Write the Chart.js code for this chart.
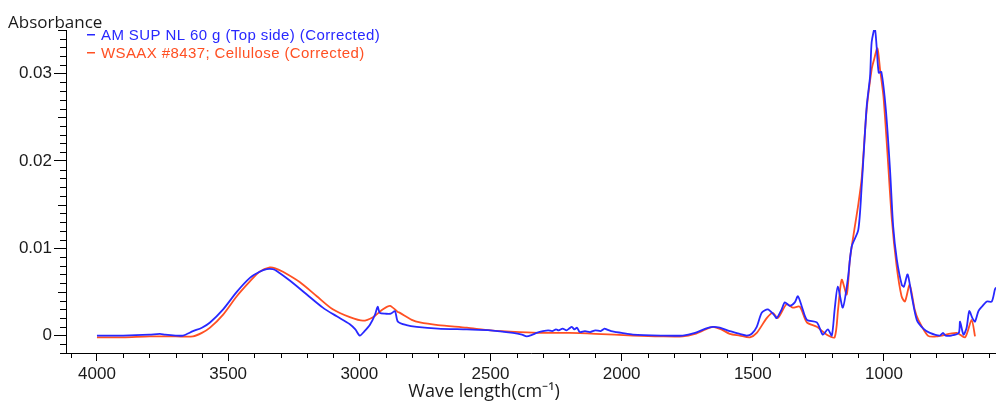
<!DOCTYPE html>
<html>
<head>
<meta charset="utf-8">
<script src="https://cdn.jsdelivr.net/npm/chart.js@4.4.1/dist/chart.umd.min.js"></script>
<style>
  html, body { margin: 0; padding: 0; background: #fff; }
  #wrap { width: 996px; height: 403px; position: relative; }
</style>
</head>
<body>
<div id="wrap"><canvas id="spectrum" width="996" height="403"></canvas></div>
<script>
// sample spectrum (AM SUP NL 60 g, top side)
const blueWn = [4000, 3900, 3800, 3760, 3740, 3700, 3672, 3634, 3600, 3569, 3519, 3467, 3417, 3380, 3353, 3330, 3315, 3265, 3200, 3139, 3086, 3036, 3015, 2998, 2980, 2960, 2940, 2930, 2922, 2900, 2880, 2864, 2853, 2820, 2781, 2700, 2590, 2500, 2414, 2380, 2362, 2340, 2324, 2300, 2280, 2265, 2250, 2240, 2225, 2210, 2200, 2190, 2180, 2170, 2160, 2140, 2120, 2100, 2080, 2065, 2057, 2040, 2020, 2000, 1957, 1850, 1767, 1720, 1680, 1652, 1626, 1588, 1550, 1523, 1504, 1485, 1466, 1443, 1420, 1409, 1390, 1378, 1359, 1340, 1328, 1313, 1294, 1256, 1233, 1214, 1199, 1188, 1176, 1157, 1138, 1123, 1098, 1085, 1066, 1053, 1047, 1035, 1028, 1020, 1010, 993, 977, 965, 951, 932, 924, 910, 894, 875, 850, 825, 787, 775, 765, 743, 715, 710, 697, 685, 675, 663, 653, 640, 627, 608, 589, 577, 573];
const blueAbs = [0.0000, 0.0000, 0.0001, 0.0002, 0.0001, 0.0000, 0.0000, 0.0005, 0.0009, 0.0015, 0.0030, 0.0050, 0.0066, 0.0073, 0.0076, 0.0076, 0.0074, 0.0063, 0.0047, 0.0032, 0.0022, 0.0013, 0.0007, 0.0000, 0.0005, 0.0012, 0.0024, 0.0033, 0.0026, 0.0025, 0.0025, 0.0028, 0.0016, 0.0012, 0.0010, 0.0008, 0.0007, 0.0006, 0.0003, 0.0001, -0.0001, 0.0001, 0.0003, 0.0005, 0.0006, 0.0005, 0.0007, 0.0006, 0.0008, 0.0006, 0.0008, 0.0010, 0.0007, 0.0009, 0.0004, 0.0005, 0.0004, 0.0006, 0.0005, 0.0008, 0.0007, 0.0005, 0.0004, 0.0003, 0.0001, 0.0000, 0.0000, 0.0003, 0.0008, 0.0010, 0.0009, 0.0005, 0.0002, 0.0000, 0.0002, 0.0010, 0.0026, 0.0030, 0.0024, 0.0020, 0.0030, 0.0038, 0.0034, 0.0038, 0.0045, 0.0033, 0.0018, 0.0015, 0.0001, 0.0007, 0.0000, 0.0030, 0.0056, 0.0032, 0.0064, 0.0102, 0.0121, 0.0171, 0.0262, 0.0297, 0.0336, 0.0352, 0.0331, 0.0301, 0.0302, 0.0259, 0.0190, 0.0125, 0.0087, 0.0058, 0.0056, 0.0070, 0.0045, 0.0018, 0.0008, 0.0003, 0.0000, 0.0003, 0.0000, 0.0000, 0.0003, 0.0016, 0.0001, 0.0009, 0.0028, 0.0020, 0.0016, 0.0028, 0.0033, 0.0039, 0.0039, 0.0053, 0.0055];

// reference spectrum (WSAAX #8437; Cellulose)
const redWn = [4000, 3900, 3800, 3700, 3634, 3600, 3569, 3519, 3467, 3417, 3380, 3341, 3320, 3291, 3226, 3162, 3101, 3036, 2986, 2948, 2910, 2883, 2853, 2845, 2800, 2769, 2700, 2590, 2500, 2388, 2300, 2200, 2100, 1957, 1850, 1767, 1720, 1680, 1652, 1620, 1588, 1550, 1511, 1485, 1447, 1424, 1405, 1371, 1348, 1321, 1294, 1256, 1218, 1188, 1175, 1161, 1142, 1130, 1111, 1098, 1085, 1066, 1047, 1038, 1025, 1015, 1002, 987, 970, 952, 933, 920, 902, 883, 869, 833, 800, 723, 691, 666, 653];
const redAbs = [-0.0002, -0.0002, -0.0001, -0.0001, -0.0001, 0.0003, 0.0009, 0.0024, 0.0045, 0.0062, 0.0073, 0.0078, 0.0077, 0.0073, 0.0061, 0.0045, 0.0030, 0.0021, 0.0017, 0.0021, 0.0030, 0.0034, 0.0027, 0.0026, 0.0018, 0.0015, 0.0012, 0.0009, 0.0006, 0.0004, 0.0003, 0.0003, 0.0002, 0.0000, -0.0001, -0.0001, 0.0002, 0.0007, 0.0010, 0.0007, 0.0002, 0.0000, -0.0002, 0.0003, 0.0020, 0.0026, 0.0020, 0.0036, 0.0032, 0.0033, 0.0015, 0.0010, 0.0001, -0.0002, 0.0030, 0.0064, 0.0047, 0.0087, 0.0125, 0.0150, 0.0180, 0.0259, 0.0305, 0.0316, 0.0329, 0.0305, 0.0274, 0.0210, 0.0133, 0.0080, 0.0045, 0.0039, 0.0058, 0.0030, 0.0018, 0.0000, -0.0001, 0.0003, -0.0002, 0.0018, -0.0001];

const seriesNames = ['AM SUP NL 60 g (Top side) (Corrected)', 'WSAAX #8437; Cellulose (Corrected)'];
const xTicks = [4000, 3500, 3000, 2500, 2000, 1500, 1000];
const yTicks = [0, 0.01, 0.02, 0.03];

const BLUE = 'rgb(40, 40, 255)';
const RED = 'rgb(255, 80, 35)';

function toPoints(xs, ys) {
    return xs.map((x, i) => ({ x: x, y: ys[i] }));
}

// small ticks, axis titles and legend drawn on top of the chart
const decorations = {
    id: 'decorations',
    afterDraw(chart) {
        const ctx = chart.ctx;
        const xs = chart.scales.x;
        const ys = chart.scales.y;
        const area = chart.chartArea;
        ctx.save();
        ctx.strokeStyle = '#000';
        ctx.lineWidth = 1;
        ctx.beginPath();
        for (let i = -2; i <= 35; i++) {
            if (i % 10 === 0) continue;
            const py = Math.round(ys.getPixelForValue(i / 1000)) + 0.5;
            const len = (i % 5 === 0) ? 8 : 6;
            ctx.moveTo(area.left - len, py);
            ctx.lineTo(area.left, py);
        }
        for (let w = 4100; w >= 600; w -= 100) {
            if (w % 500 === 0) continue;
            const px = Math.round(xs.getPixelForValue(w)) + 0.5;
            ctx.moveTo(px, area.bottom);
            ctx.lineTo(px, area.bottom + 5);
        }
        ctx.stroke();

        ctx.fillStyle = '#1a1a1a';
        ctx.textBaseline = 'alphabetic';
        ctx.font = '17px "Open Sans"';
        ctx.textAlign = 'left';
        ctx.fillText('Absorbance', 8, 28);
        ctx.font = '18px "Open Sans"';
        ctx.textAlign = 'center';
        ctx.fillText('Wave length(cm\u207B\u00B9)', 484, 397);

        ctx.font = '15px "Liberation Sans"';
        ctx.letterSpacing = '0.4px';
        ctx.textAlign = 'left';
        const colors = [BLUE, RED];
        const baselines = [40, 58];
        seriesNames.forEach((name, i) => {
            ctx.fillStyle = colors[i];
            ctx.fillRect(87, baselines[i] - 6, 8, 1.5);
            ctx.fillText(name, 101, baselines[i]);
        });
        ctx.restore();
    }
};

new Chart(document.getElementById('spectrum'), {
    type: 'line',
    data: {
        datasets: [
            {
                label: seriesNames[0],
                data: toPoints(blueWn, blueAbs),
                borderColor: BLUE,
                borderWidth: 1.8,
                pointRadius: 0,
                tension: 0.25,
                fill: false
            },
            {
                label: seriesNames[1],
                data: toPoints(redWn, redAbs),
                borderColor: RED,
                borderWidth: 1.8,
                pointRadius: 0,
                tension: 0.25,
                fill: false
            }
        ]
    },
    plugins: [decorations],
    options: {
        responsive: false,
        animation: false,
        layout: { padding: { top: 30, left: 0, right: 0, bottom: 0 } },
        plugins: {
            legend: { display: false },
            tooltip: { enabled: false }
        },
        scales: {
            x: {
                type: 'linear',
                reverse: true,
                min: 573,
                max: 4118,
                afterBuildTicks: scale => { scale.ticks = xTicks.map(v => ({ value: v })); },
                afterFit: scale => { scale.height = 50; },
                border: { display: true, color: '#000', width: 1 },
                grid: { display: true, drawOnChartArea: false, drawTicks: true, tickLength: 8, color: '#000' },
                ticks: {
                    autoSkip: false,
                    maxRotation: 0,
                    padding: 3,
                    color: '#1a1a1a',
                    font: { family: '"Liberation Sans"', size: 17 },
                    callback: v => String(v)
                }
            },
            y: {
                type: 'linear',
                min: -0.002,
                max: 0.035,
                afterBuildTicks: scale => { scale.ticks = yTicks.map(v => ({ value: v })); },
                afterFit: scale => { scale.width = 66; },
                border: { display: true, color: '#000', width: 1 },
                grid: { display: true, drawOnChartArea: false, drawTicks: true, tickLength: 12, color: '#000' },
                ticks: {
                    autoSkip: false,
                    padding: 2,
                    color: '#1a1a1a',
                    font: { family: '"Liberation Sans"', size: 17 },
                    callback: v => (v === 0 ? '0' : v.toFixed(2))
                }
            }
        }
    }
});
</script>
</body>
</html>
